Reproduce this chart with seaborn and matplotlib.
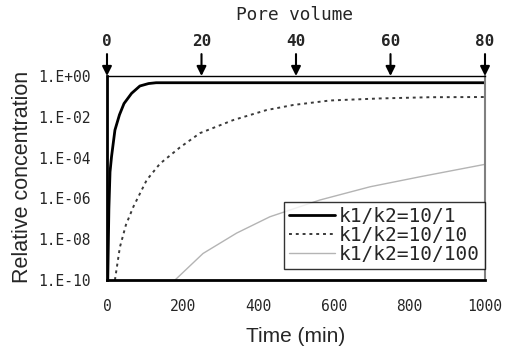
import numpy as np
import pandas as pd
import matplotlib
matplotlib.use("Agg")
import matplotlib.pyplot as plt
import seaborn as sns

# time (min) and log10(relative concentration)
t_fast = [0, 2, 5, 8, 12, 21, 33, 45, 65, 87, 110, 130, 1000]
log_fast = [-10, -10, -6.5, -4.7, -3.95, -2.65, -1.9, -1.35, -0.85, -0.49, -0.37, -0.33, -0.33]

t_mid = [21, 34, 50, 70, 105, 140, 193, 246, 334, 422, 493, 590, 722, 854, 1000]
log_mid = [-10, -8.4, -7.3, -6.4, -5.1, -4.3, -3.5, -2.8, -2.16, -1.67, -1.42, -1.2, -1.1, -1.04, -1.03]

t_slow = [180, 254, 343, 431, 563, 696, 828, 1000]
log_slow = [-10, -8.7, -7.7, -6.9, -6.08, -5.43, -4.94, -4.33]

labels = ["k1/k2=10/1", "k1/k2=10/10", "k1/k2=10/100"]
pore_volumes = [0, 20, 40, 60, 80]
min_per_pv = 12.5
yticks = [1e0, 1e-2, 1e-4, 1e-6, 1e-8, 1e-10]
ytick_labels = ["1.E+00", "1.E-02", "1.E-04", "1.E-06", "1.E-08", "1.E-10"]

sns.set_style("white")
plt.rcParams["font.family"] = ["DejaVu Sans Mono", "DejaVu Sans"]
sans = ["Liberation Sans", "DejaVu Sans"]

fig = plt.figure(figsize=(5.11, 3.51), dpi=100)
ax = fig.add_axes([107 / 511, 1 - 280 / 351, 378 / 511, 204 / 351])

styles = [
    dict(color="black", lw=2.0, linestyle="-"),
    dict(color="#3a3a3a", lw=1.4, linestyle=(0, (1.5, 2))),
    dict(color="#b4b4b4", lw=1.0, linestyle="-"),
]
for t, lg, lab, st in zip([t_fast, t_mid, t_slow], [log_fast, log_mid, log_slow], labels, styles):
    df = pd.DataFrame({"t": t, "c": 10.0 ** np.array(lg)})
    sns.lineplot(data=df, x="t", y="c", ax=ax, label=lab, **st)

ax.set_yscale("log")
ax.set_xlim(0, 1000)
ax.set_ylim(1e-10, 1)
ax.set_yticks(yticks)
ax.set_yticklabels(ytick_labels)
ax.yaxis.set_minor_locator(matplotlib.ticker.NullLocator())
ax.set_xticks(range(0, 1001, 200))
ax.tick_params(axis="both", direction="in", length=5, width=1, labelsize=10.5, color="black")
ax.tick_params(axis="x", pad=14)
ax.tick_params(axis="y", pad=12)

for s in ["left", "bottom"]:
    ax.spines[s].set_color("black")
    ax.spines[s].set_linewidth(2)
ax.spines["top"].set_color("black")
ax.spines["top"].set_linewidth(1)
ax.spines["right"].set_color("#808080")
ax.spines["right"].set_linewidth(1.5)

ax.set_xlabel("Time (min)", fontsize=15, family=sans, va="center")
ax.xaxis.set_label_coords(0.5, (280 - 337) / 204)
ax.set_ylabel("Relative concentration", fontsize=15.5, family=sans, va="center")
ax.yaxis.set_label_coords((23 - 107) / 378, (280 - 177) / 204)

# pore volume arrows on top
for pv in pore_volumes:
    ax.annotate(str(pv), xy=(pv * min_per_pv, 1.0), xycoords=("data", "axes fraction"),
                xytext=(pv * min_per_pv, 1.167), textcoords=("data", "axes fraction"),
                ha="center", va="center", fontsize=11.5, fontweight="bold",
                annotation_clip=False,
                arrowprops=dict(arrowstyle="-|>", color="black", lw=1.5,
                                shrinkA=1, shrinkB=0, mutation_scale=14))
fig.text(294 / 511, 1 - 15 / 351, "Pore volume", ha="center", va="center", fontsize=12.8)

leg = ax.legend(loc="lower right", bbox_to_anchor=(1.0, 11 / 204), borderaxespad=0,
                fancybox=False, frameon=True, fontsize=14, handlelength=2.4,
                labelspacing=0.0, borderpad=0.25, handletextpad=0.2)
leg.get_frame().set_edgecolor("black")
leg.get_frame().set_linewidth(1)

fig.savefig("out.png", dpi=100)
